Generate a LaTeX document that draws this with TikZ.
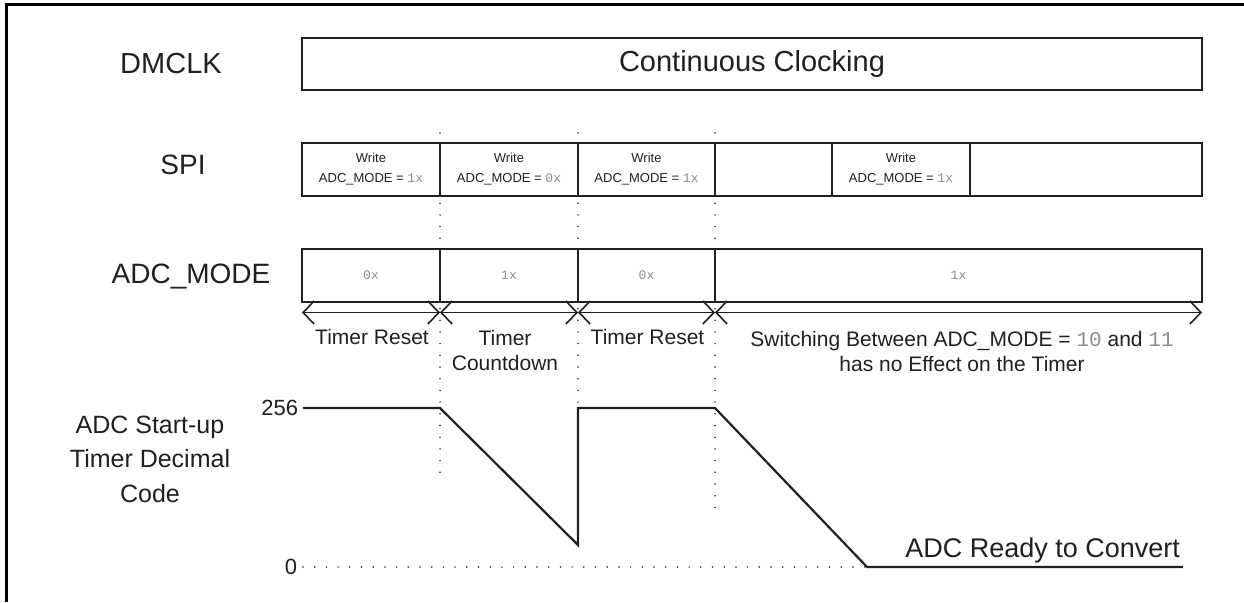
\documentclass[tikz,border=0pt]{standalone}
\usepackage{fontspec}
\setmainfont{Liberation Sans}
\setmonofont{Liberation Mono}
\usetikzlibrary{arrows.meta}
\definecolor{ink}{HTML}{231F20}
\definecolor{monogray}{HTML}{8C8C8C}
\newcommand{\mval}[1]{{\ttfamily\color{monogray}#1}}
\begin{document}
\begin{tikzpicture}[x=1pt,y=-1pt,
  every node/.style={text=ink, inner sep=0pt, outer sep=0pt},
  big/.style={font=\fontsize{28}{34}\selectfont},
  mid/.style={font=\fontsize{21}{25}\selectfont},
  tiny/.style={font=\fontsize{13}{20}\selectfont},
  box/.style={draw=ink, line width=1.8pt, rectangle, align=center, minimum height=53pt},
  wbox/.style={box, line width=2.4pt},
  span/.style={draw=ink, line width=1.6pt, {Straight Barb[length=11pt,width=23pt]}-{Straight Barb[length=11pt,width=23pt]}},
  dots/.style={draw=ink, line width=1.7pt, line cap=round, dash pattern=on 0pt off 11.7pt},
  sig/.style={draw=ink, line width=2.2pt, line join=miter},
  frame/.style={draw=black, line width=3pt}]
\useasboundingbox (0,0) rectangle (1244,602);
% frame
\coordinate (fa) at (6.5,602);
\coordinate (fb) at (6.5,5);
\coordinate (fc) at (1244,5);
\draw[frame] (fa) -- (fb) -- (fc);

% dotted guide lines
\coordinate (d1t) at (440,133); \coordinate (d1b) at (440,477);
\coordinate (d2t) at (578,133); \coordinate (d2b) at (578,406);
\coordinate (d3t) at (715,133); \coordinate (d3b) at (715,512);
\draw[dots] (d1t) -- (d1b);
\draw[dots] (d2t) -- (d2b);
\draw[dots] (d3t) -- (d3b);

% row labels
\node[font=\fontsize{29}{34}\selectfont] (lDM) at (171,64) {DMCLK};
\node[big] (lSPI) at (183,165) {SPI};
\node[big] (lADC) at (191,276.5) {ADC\_MODE};
\node[font=\fontsize{25}{34.5}\selectfont, align=center] (lTim) at (150,459) {ADC Start-up\\Timer Decimal\\Code};

% DMCLK
\node[box, minimum width=900pt, minimum height=52pt, font=\fontsize{29}{34}\selectfont] (dm) at (752,64) {Continuous Clocking};

% SPI
\node[box, tiny, minimum width=138pt] (spiA) at (371,169.5) {Write\\ADC\_MODE = \mval{1x}};
\node[box, tiny, minimum width=138pt] (spiB) at (509,169.5) {Write\\ADC\_MODE = \mval{0x}};
\node[box, tiny, minimum width=137pt] (spiC) at (646.5,169.5) {Write\\ADC\_MODE = \mval{1x}};
\node[box, minimum width=487pt] (spiD) at (958.5,169.5) {};
\node[wbox, tiny, minimum width=138pt] (spiW) at (901,169.5) {Write\\ADC\_MODE = \mval{1x}};

% ADC_MODE
\node[box, tiny, minimum width=138pt] (adcA) at (371,275.5) {\mval{0x}};
\node[box, tiny, minimum width=138pt] (adcB) at (509,275.5) {\mval{1x}};
\node[box, tiny, minimum width=137pt] (adcC) at (646.5,275.5) {\mval{0x}};
\node[box, tiny, minimum width=487pt] (adcD) at (958.5,275.5) {\mval{1x}};

% spans
\coordinate (m0) at (302,312.5);
\coordinate (m1) at (440,312.5);
\coordinate (m2) at (578,312.5);
\coordinate (m3) at (715,312.5);
\coordinate (m4) at (1202,312.5);
\draw[span] (m0) -- (m1);
\draw[span] (m1) -- (m2);
\draw[span] (m2) -- (m3);
\draw[span] (m3) -- (m4);

\node[mid] (tr1) at (372,337) {Timer Reset};
\node[mid, align=center] (tcd) at (505,350) {Timer\\Countdown};
\node[mid] (tr2) at (647.5,337) {Timer Reset};
\node[mid, align=center] (tsw) at (962,351) {Switching Between ADC\_MODE = \mval{10} and \mval{11}\\has no Effect on the Timer};

% timer waveform
\coordinate (w0) at (303,408);
\coordinate (w1) at (440,408);
\coordinate (w2) at (578,545);
\coordinate (w3) at (578,408);
\coordinate (w4) at (715,408);
\coordinate (w5) at (867,567);
\coordinate (w6) at (1183,567);
\coordinate (z0) at (303,567);
\draw[dots] (z0) -- (w5);
\draw[sig] (w0) -- (w1) -- (w2) -- (w3) -- (w4) -- (w5) -- (w6);

\node[font=\fontsize{22}{26}\selectfont, anchor=east] (v256) at (298,408) {256};
\node[font=\fontsize{22}{26}\selectfont, anchor=east] (v0) at (297,567) {0};
\node[font=\fontsize{27}{32}\selectfont, anchor=base east] (rdy) at (1180,557) {ADC Ready to Convert};
\end{tikzpicture}
\end{document}
